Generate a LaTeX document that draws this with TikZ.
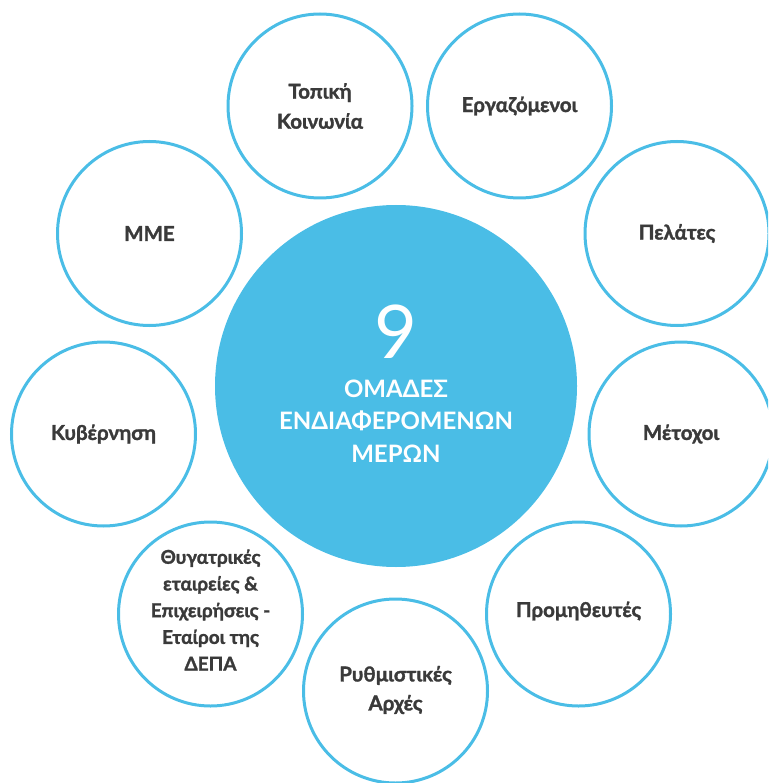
\documentclass[tikz,border=0pt]{standalone}
\usepackage{fontspec}
\setmainfont{Lato}[BoldFont={Lato Bold}]
\newfontfamily\lblfont{Lato Bold}[FakeBold=1.5]
\definecolor{cblue}{HTML}{4ABDE6}
\definecolor{ctext}{HTML}{3A3A3A}
\tikzset{
  ring/.style={circle, draw=cblue, line width=3pt, minimum size=184pt, inner sep=0pt},
  lbl/.style={text=ctext, font=\lblfont\fontsize{20.5}{29}\selectfont, align=center},
  hub/.style={circle, fill=cblue, minimum size=362pt, inner sep=0pt},
}
\begin{document}
\begin{tikzpicture}[x=1pt,y=-1pt]
\useasboundingbox (0,0) rectangle (768,783);
\clip (0,0) rectangle (768,783);
\node[hub] (hub) at (396,386) {};
\node[text=white, font=\fontsize{74}{74}\selectfont] (nine) at (396,332) {9};
\node[text=white, font=\bfseries\fontsize{24}{32.5}\selectfont, align=center] (title) at (396,421) {ΟΜΑΔΕΣ\\ΕΝΔΙΑΦΕΡΟΜΕΝΩΝ\\ΜΕΡΩΝ};
\node[ring] (c1) at (320,106) {};
\node[lbl,font=\lblfont\fontsize{20.5}{30}\selectfont] at (c1) {Τοπική\\Κοινωνία};
\node[ring] (c2) at (519.5,106) {};
\node[lbl] at (c2) {Εργαζόμενοι};
\node[ring] (c3) at (677,233.5) {};
\node[lbl] at (c3) {Πελάτες};
\node[ring] (c4) at (681,434) {};
\node[lbl] at (c4) {Μέτοχοι};
\node[ring] (c5) at (578.5,614) {};
\node[lbl] at ([yshift=3pt]c5) {Προμηθευτές};
\node[ring] (c6) at (395.5,691) {};
\node[lbl,font=\lblfont\fontsize{20.5}{29}\selectfont] at ([yshift=1pt]c6) {Ρυθμιστικές\\Αρχές};
\node[ring] (c7) at (210.5,614) {};
\node[lbl,font=\lblfont\fontsize{19}{26.7}\selectfont] at ([yshift=4pt]c7) {Θυγατρικές\\εταιρείες \&\\Επιχειρήσεις -\\Εταίροι της\\ΔΕΠΑ};
\node[ring] (c8) at (103.5,434) {};
\node[lbl] at (c8) {Κυβέρνηση};
\node[ring] (c9) at (149.5,233.5) {};
\node[lbl] at (c9) {ΜΜΕ};
\end{tikzpicture}
\end{document}
